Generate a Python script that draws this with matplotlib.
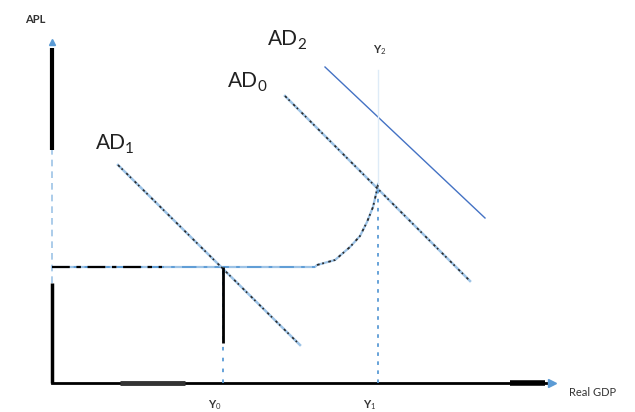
import numpy as np
import matplotlib
matplotlib.use("Agg")
import matplotlib.pyplot as plt

# AD/AS diagram, coordinates in arbitrary "output" / "price level" units
ad1_x = [13.2, 49.6]
ad1_y = [43.6, 7.6]
ad0_x = [46.6, 83.6]
ad0_y = [57.4, 20.4]
ad2_x = [54.6, 86.6]
ad2_y = [63.2, 33.0]

# aggregate supply: flat part then curving up to full capacity
as_x = [0.0, 52.6, 53.0, 56.6, 59.6, 61.6, 63.0, 64.2, 65.0, 65.2]
as_y = [23.2, 23.2, 23.6, 24.6, 27.2, 29.4, 32.2, 35.2, 38.6, 39.8]

y0_x = 34.2
y1_x = 65.2
y1_top = 62.6
x_max = 100.0
y_max = 68.2

ad_names = ["AD", "AD", "AD"]
ad_subs = ["1", "0", "2"]
ad_label_pos = [(8.8, 46.8), (35.2, 59.2), (43.2, 67.6)]

plt.rcParams['font.family'] = ['Lato', 'DejaVu Sans']
plt.rcParams['mathtext.fontset'] = 'custom'
plt.rcParams['mathtext.rm'] = 'Lato'
plt.rcParams['mathtext.it'] = 'Lato'

fig = plt.figure(figsize=(6.35, 4.12), dpi=100)
ax = fig.add_axes([0, 0, 1, 1])
ax.set_xlim(-10.4, 116.6)
ax.set_ylim(-5.8, 76.6)
ax.axis('off')

blue_soft = '#9dc3e6'
blue_dot = '#5b9bd5'
ink = '#2b2b2b'

# axes
ax.plot([0, 0], [0, 20], color='black', lw=2.5, solid_capstyle='butt')
ax.plot([0, 0], [20, 46.6], color=blue_soft, lw=1.2, ls=(0, (4, 3)))
ax.plot([0, 0], [46.6, 67.0], color='black', lw=3, solid_capstyle='butt')
ax.plot([0, x_max], [0, 0], color='black', lw=2)
ax.plot([13.6, 26.6], [0, 0], color='#333333', lw=3.5, solid_capstyle='butt')
ax.plot([91.6, 98.6], [0, 0], color='black', lw=4, solid_capstyle='butt')
ax.plot([x_max], [0], marker='>', color=blue_dot, ms=6)
ax.plot([0], [y_max], marker='^', color=blue_dot, ms=5)

# aggregate supply
ax.plot(as_x, as_y, color=blue_soft, lw=1.6)
ax.plot(as_x[:2], as_y[:2], color=blue_dot, lw=1.3, ls=(0, (8, 4, 2, 4)))
ax.plot([0, 22], [23.2, 23.2], color='black', lw=1.6, ls=(0, (8, 3, 2, 3)))
ax.plot(as_x[2:], as_y[2:], color=ink, lw=1.3, ls=(0, (1.5, 1.5, 1, 2.5)))

# AD curves (fuzzy dashed look)
for xs, ys in [(ad1_x, ad1_y), (ad0_x, ad0_y)]:
    ax.plot(xs, ys, color=blue_soft, lw=1.8)
    ax.plot(xs, ys, color=ink, lw=1.2, ls=(0, (1.5, 1.5, 1, 3)))
ax.plot(ad2_x, ad2_y, color='#4472c4', lw=1)

# output levels
ax.plot([y0_x, y0_x], [0, 23.2], color=blue_dot, lw=1.3, ls=(0, (2, 4)))
ax.plot([y0_x, y0_x], [8.0, 23.2], color='black', lw=2, solid_capstyle='butt')
ax.plot([y1_x, y1_x], [0, as_y[-1]], color=blue_dot, lw=1.3, ls=(0, (2, 3)))
ax.plot([y1_x, y1_x], [as_y[-1], y1_top], color='#deebf7', lw=1)

for name, sub, (lx, ly) in zip(ad_names, ad_subs, ad_label_pos):
    ax.text(lx, ly, name, fontsize=15, ha='left', va='baseline', color='#222222')
    ax.annotate(sub, (lx, ly), xytext=(21, -3), textcoords='offset points',
                fontsize=11, ha='left', va='baseline', color='#222222')

ax.text(-3.4, 72.6, "APL", fontsize=8, fontweight='bold', ha='center', va='center', color='#333333')
ax.text(65.6, 66.6, "Y$_2$", fontsize=8, fontweight='bold', ha='center', va='center', color='#333333')
ax.text(32.6, -4.4, "Y$_0$", fontsize=8, fontweight='bold', ha='center', va='center', color='#333333')
ax.text(63.6, -4.4, "Y$_1$", fontsize=8, fontweight='bold', ha='center', va='center', color='#333333')
ax.text(108.2, -1.8, "Real GDP", fontsize=8, ha='center', va='center', color='#333333')

fig.savefig("out.png", dpi=100)
